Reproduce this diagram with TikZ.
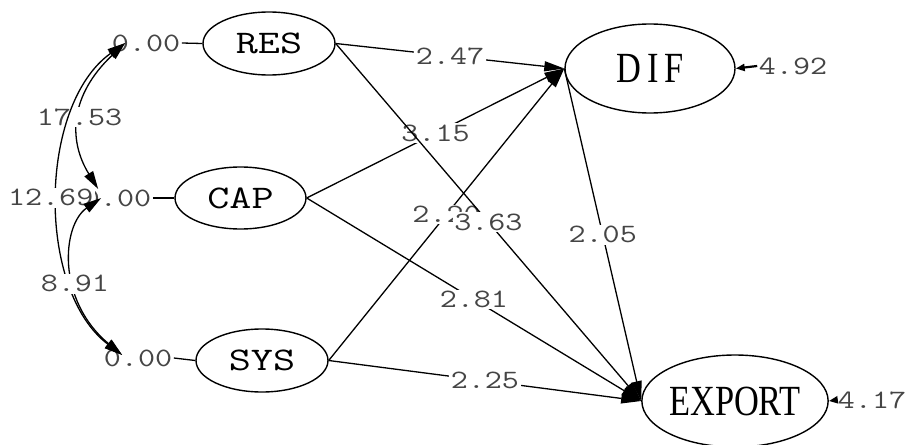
\documentclass[tikz,border=0pt]{standalone}
\usepackage{fontspec}
\usetikzlibrary{arrows.meta,shapes.geometric}
\newfontfamily\numfont[FakeStretch=1.25]{Latin Modern Mono}
\newfontfamily\latfont[FakeStretch=1.3]{Latin Modern Mono}
\newfontfamily\serfont[FakeStretch=0.8]{Liberation Serif}
\definecolor{numgray}{HTML}{454545}

\begin{document}
\begin{tikzpicture}[x=1pt,y=1pt,
    lat/.style={draw,ellipse,line width=1.4pt,inner sep=0pt,font=\latfont\fontsize{33}{33}\selectfont},
    big/.style={draw,ellipse,line width=1.4pt,inner sep=0pt,font=\serfont\fontsize{43}{43}\selectfont},
    num/.style={inner sep=1.5pt,text=numgray,font=\numfont\fontsize{26.5}{26.5}\selectfont},
    lbl/.style={num,fill=white},
    causal/.style={line width=1.3pt,-{Triangle[length=20pt,width=10pt]}},
    cov/.style={line width=1.3pt,{Triangle[length=18pt,width=10pt]}-{Triangle[length=18pt,width=10pt]}},
    err/.style={line width=2.2pt,-{Triangle[length=9pt,width=7pt]}}]
\useasboundingbox (0,0) rectangle (912,-444);

% latent variables
\node[lat,minimum width=132pt,minimum height=63pt] (RES) at (269,-43.5) {RES};
\node[lat,minimum width=131pt,minimum height=62pt] (CAP) at (240.5,-198) {CAP};
\node[lat,minimum width=132pt,minimum height=63pt] (SYS) at (262,-360.5) {SYS};
\node[big,minimum width=170pt,minimum height=89pt] (DIF) at (650,-68.5) {D\hspace{6pt}I\hspace{6pt}F};
\node[big,minimum width=156pt,minimum height=92pt] (EXPORT) at (735,-401) {EXPORT};

% fixed values
\node[num] (z1) at (146,-43) {0.00};
\node[num] (z2) at (117,-198) {0.00};
\node[num] (z3) at (138,-358) {0.00};
\draw[line width=1.3pt] (z1.east) -- (RES.west);
\draw[line width=1.3pt] (z2.east) -- (CAP.west);
\draw[line width=1.3pt] (z3.east) -- (SYS.west);

% error variances
\node[num] (e1) at (793,-66) {4.92};
\node[num] (e2) at (872,-400) {4.17};
\draw[err] (e1.west) -- (DIF.east);
\draw[err] (e2.west) -- (EXPORT.east);

% covariances
\draw[cov] ([xshift=15pt]z1.west) .. controls (70,-95) and (67.7,-139.7) .. node[lbl]{17.53} ([xshift=17pt,yshift=9pt]z2.west);
\draw[cov] ([xshift=15pt]z1.west) .. controls (38,-105) and (36,-290) .. node[lbl,xshift=-8pt]{12.69} ([xshift=20pt,yshift=3pt]z3.west);
\draw[cov] ([xshift=20pt]z2.west) .. controls (62,-225) and (56,-300) .. node[lbl,pos=0.6]{8.91} ([xshift=20pt,yshift=3pt]z3.west);

% paths
\draw[causal] (RES.east) -- node[lbl]{2.47} (DIF.west);
\draw[causal] (CAP.east) -- node[lbl]{3.15} (DIF.west);
\draw[causal] (SYS.east) -- node[lbl]{2.20} (DIF.west);
\draw[causal] (RES.east) -- node[lbl]{3.63} (EXPORT.west);
\draw[causal] (CAP.east) -- node[lbl]{2.81} (EXPORT.west);
\draw[causal] (SYS.east) -- node[lbl]{2.25} (EXPORT.west);
\draw[causal] (DIF.west) -- node[lbl]{2.05} (EXPORT.west);
\end{tikzpicture}
\end{document}
